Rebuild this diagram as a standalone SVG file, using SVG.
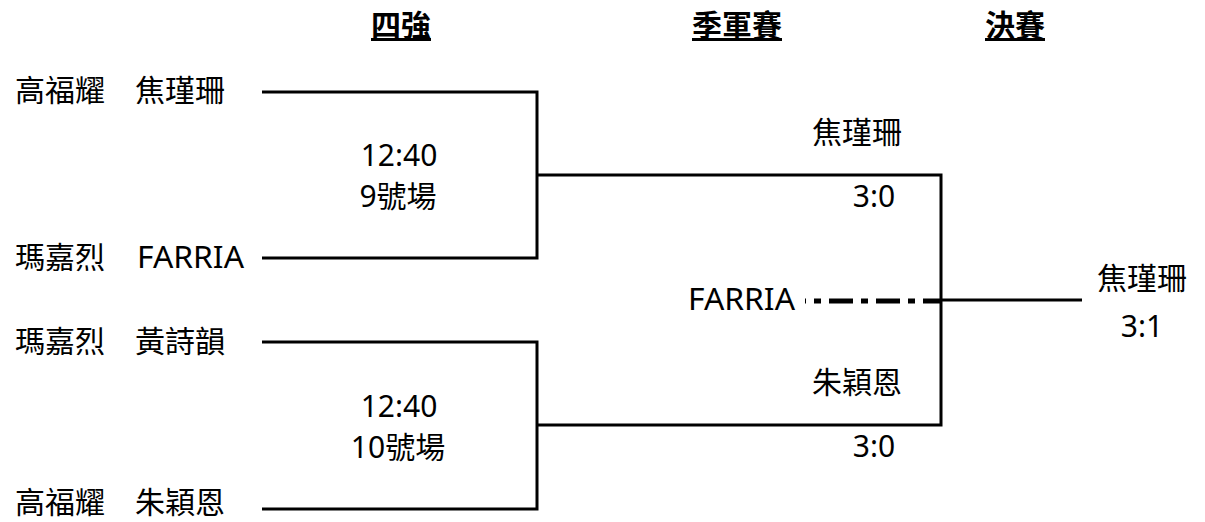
<svg xmlns="http://www.w3.org/2000/svg" width="1205" height="522" viewBox="0 0 1205 522">
<style>
text{font-family:"Noto Sans","Noto Sans CJK TC",sans-serif;font-size:30px;fill:#000}
.h{font-weight:bold;text-decoration:underline}
.m{text-anchor:middle}
.ln{stroke:#000;stroke-width:3;fill:none}
.dd{stroke:#000;stroke-width:5;fill:none;stroke-dasharray:24 8 7 8;stroke-dashoffset:23}
</style>
<rect width="1205" height="522" fill="#fff"/>
<g id="headers">
<text class="h m" x="401" y="36">四強</text>
<text class="h m" x="737" y="36">季軍賽</text>
<text class="h m" x="1015" y="36">決賽</text>
</g>
<g id="p1"><text x="15" y="101">高福耀</text><text x="135" y="101">焦瑾珊</text></g>
<g id="p2"><text x="15" y="268">瑪嘉烈</text><text x="137" y="268" textLength="107" lengthAdjust="spacingAndGlyphs">FARRIA</text></g>
<g id="p3"><text x="15" y="352">瑪嘉烈</text><text x="135" y="352">黃詩韻</text></g>
<g id="p4"><text x="15" y="513">高福耀</text><text x="135" y="513">朱穎恩</text></g>
<g id="m1"><text class="m" x="399" y="166">12:40</text><text class="m" x="398" y="207">9號場</text></g>
<g id="m2"><text class="m" x="399" y="417">12:40</text><text class="m" x="398" y="458">10號場</text></g>
<g id="r1"><text class="m" x="857" y="143">焦瑾珊</text><text class="m" x="874" y="207">3:0</text></g>
<g id="r2"><text class="m" x="857" y="393">朱穎恩</text><text class="m" x="874" y="457">3:0</text></g>
<g id="third"><text x="688" y="310" textLength="107" lengthAdjust="spacingAndGlyphs">FARRIA</text></g>
<g id="final"><text class="m" x="1142" y="289">焦瑾珊</text><text class="m" x="1142" y="337">3:1</text></g>
<g id="connectors">
<path class="ln" d="M262 92H537V258H262"/>
<path class="ln" d="M262 342H537V509H262"/>
<path class="ln" d="M537 175H941V425H537"/>
<path class="ln" d="M941 300H1082"/>
<path class="dd" d="M805 301H941"/>
</g>
</svg>
